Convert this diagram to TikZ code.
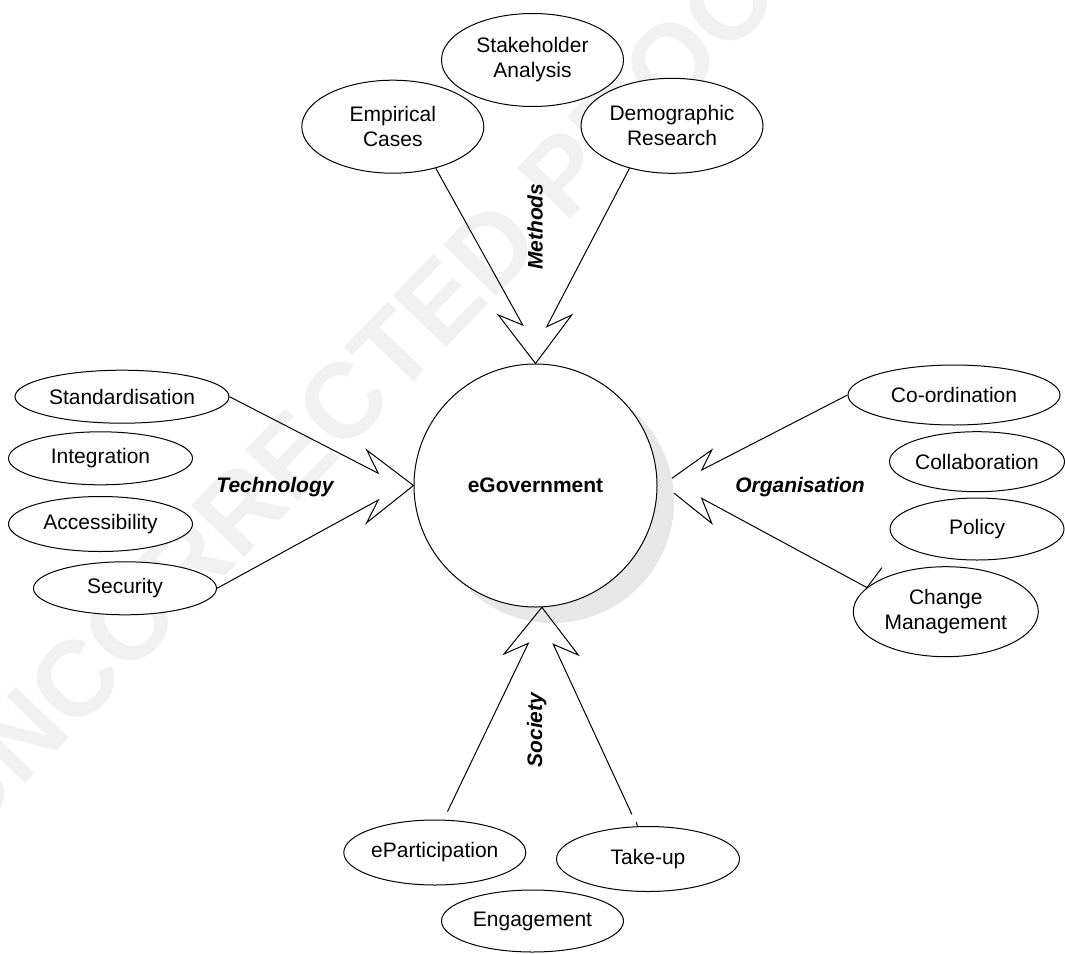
\documentclass[tikz,border=0pt]{standalone}
\usepackage{fontspec}
\setmainfont{Liberation Sans}
\usetikzlibrary{shapes.geometric,calc}
\begin{document}
\begin{tikzpicture}[x=1pt,y=-1pt,
  el/.style={ellipse,draw,fill=white,line width=1pt,inner sep=0pt,align=center,
    font=\fontsize{21}{25}\selectfont},
  lbl/.style={font=\fontsize{21}{25}\selectfont\bfseries\itshape,inner sep=0pt},
  conn/.style={draw,line width=1pt,line join=miter,miter limit=20}]
\useasboundingbox (0,0) rectangle (1065,953);
% faint watermark
\node[text=gray!11,font=\fontsize{107}{107}\selectfont\bfseries,rotate=46,inner sep=0pt]
  (wm) at (372,372) {UNCORRECTED PROOF};
% shadow and centre
\node[circle,fill=gray!19,minimum size=243pt,inner sep=0pt] (shadow) at (552.5,501.5) {};
\node[circle,draw,fill=white,line width=1pt,minimum size=243pt,inner sep=0pt,
  font=\fontsize{21}{25}\selectfont\bfseries] (egov) at (535.5,485.5) {eGovernment};
% methods
\node[el,minimum width=182pt,minimum height=93pt] (stake) at (532.5,60) {Stakeholder\\Analysis};
\node[el,minimum width=182pt,minimum height=93pt] (emp) at (392.8,126.7) {Empirical\\Cases};
\node[el,minimum width=182pt,minimum height=95pt] (demo) at (672,125.8) {Demographic\\Research};
% technology
\node[el,minimum width=214pt,minimum height=53pt] (std) at (122,396.7) {Standardisation};
\node[el,minimum width=184pt,minimum height=53pt] (integ) at (100.5,458.3) {Integration};
\node[el,minimum width=184pt,minimum height=55pt] (access) at (100.5,524) {Accessibility};
\node[el,minimum width=183pt,minimum height=53pt] (secur) at (125,588.3) {Security};
% organisation
\node[el,minimum width=212pt,minimum height=60pt] (coord) at (954,395) {Co-ordination};
\node[el,minimum width=174pt,minimum height=60pt] (collab) at (977,461.7) {Collaboration};
\node[el,minimum width=174pt,minimum height=62pt] (policy) at (977,529) {Policy};
\node[el,minimum width=185pt,minimum height=90pt] (change) at (945.8,611.7) {Change\\Management};
% society
\node[el,minimum width=182pt,minimum height=65pt] (epart) at (434.8,852.5) {eParticipation};
\node[el,minimum width=183pt,minimum height=65pt] (takeup) at (648,859) {Take-up};
\node[el,minimum width=182pt,minimum height=62pt] (engage) at (532.5,921) {Engagement};
% labels
\node[lbl,rotate=90] (methods) at (535,226.7) {Methods};
\node[lbl] (tech) at (275,486.7) {Technology};
\node[lbl] (org) at (800,486.7) {Organisation};
\node[lbl,rotate=90] (soc) at (536.7,730) {Society};
% arrow geometry
\coordinate (mLn) at (522.7,325);   \coordinate (mLb) at (498.3,315);
\coordinate (mRn) at (546.7,326.7); \coordinate (mRb) at (571.7,315);
\coordinate (tUn) at (378.3,473.3); \coordinate (tUb) at (366.7,450);
\coordinate (tLn) at (378.3,500);   \coordinate (tLb) at (366.7,522.7);
\coordinate (oUn) at (701.7,470);   \coordinate (oUb) at (711.7,450);
\coordinate (oLn) at (701.7,498.3); \coordinate (oLb) at (711.7,523.3);
\coordinate (sLn) at (528.3,643.3); \coordinate (sLb) at (504,654);
\coordinate (sRn) at (553.3,644.3); \coordinate (sRb) at (578.3,655);
% connectors
\draw[conn] (emp.-44) -- (mLn) -- (mLb) -- (egov.north) -- (mRb) -- (mRn) -- (demo.-135);
\draw[conn] (std.east) -- (tUn) -- (tUb) -- (egov.west) -- (tLb) -- (tLn) -- (secur.east);
\draw[conn] (coord.west) -- (oUn) -- (oUb) -- (shadow.11);
\draw[conn] (shadow.4) -- (oLb) -- (oLn) -- (change.163) -- ++(15,-20);
\draw[conn,shorten <=9pt,shorten >=13pt] (epart.75) -- (sLn) -- (sLb) -- (egov.-87)
  -- (sRb) -- (sRn) -- (takeup.108);
\draw[conn] (takeup.108) -- ++(-1,-4);
\end{tikzpicture}
\end{document}
